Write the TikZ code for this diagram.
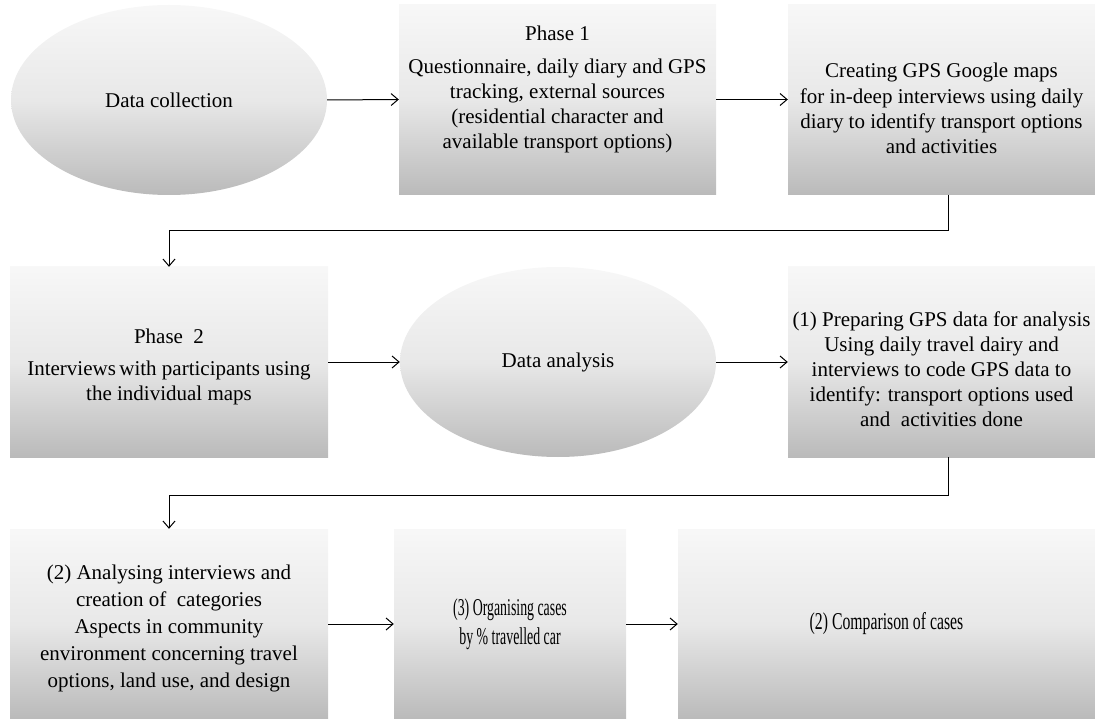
\documentclass[tikz,border=0pt]{standalone}
\usepackage{fontspec}
\setmainfont{Liberation Serif}
\usepackage{graphicx}
\usetikzlibrary{arrows.meta,shapes.geometric}
\tikzset{
    stage/.style={rectangle, minimum height=190pt, inner sep=0pt,
        top color=black!3, bottom color=black!27, middle color=black!9}, % shaded box
    blob/.style={ellipse, minimum width=316pt, minimum height=190pt, inner sep=0pt,
        top color=black!3, bottom color=black!27, middle color=black!9}, % shaded ellipse
    note/.style={align=center, inner sep=0pt}, % text inside a box
    flow/.style={-{Straight Barb[length=7pt,width=12pt]}, line width=1pt} % connector
}
\newcommand{\narrow}[2]{\scalebox{#1}[1.15]{#2}}

\begin{document}
\begin{tikzpicture}[x=1pt, y=-1pt, font=\fontsize{21pt}{25pt}\selectfont]
    \useasboundingbox (0,0) rectangle (1095,719);

    % row 1
    \node[blob] (collect) at (169,100) {Data collection};
    \node[stage, minimum width=317pt] (phase1) at (557.5,99.5) {};
    \node[note] (phase1-txt) at ([yshift=10pt]phase1.center) {Phase 1\\[8pt]
        Questionnaire, daily diary and GPS\\tracking, external sources\\
        (residential character and\\available transport options)};
    \node[stage, minimum width=307pt] (maps) at (941.5,99.5) {};
    \node[note] (maps-txt) at ([yshift=-9pt]maps.center) {Creating GPS Google maps\\[1pt]
        for in-deep interviews using daily\\diary to identify transport options\\and activities};

    % row 2
    \node[stage, minimum width=318pt] (phase2) at (169,362) {};
    \node[note] (phase2-txt) at ([yshift=-5pt]phase2.center) {Phase~~2\\[7pt]
        Interviews\,with participants using\\the individual maps};
    \node[blob] (analysis) at (558,362) {Data analysis};
    \node[stage, minimum width=307pt] (prepare) at (941.5,362) {};
    \node[note] (prepare-txt) at ([yshift=-7pt]prepare.center) {(1) Preparing GPS data for analysis\\
        Using daily travel dairy and\\interviews to code GPS data to\\
        identify: transport options used\\and~~activities done};

    % row 3
    \node[stage, minimum width=318pt] (categories) at (169,624) {};
    \node[note] (categories-txt) at ([yshift=-4pt]categories.center) {(2) Analysing interviews and\\[2pt]
        creation of~~categories\\[2pt]Aspects in community\\[2pt]environment concerning travel\\[2pt]
        options, land use, and design};
    \node[stage, minimum width=232pt] (cases) at (510,624) {};
    \node[note] (cases-txt) at (cases.center) {\narrow{0.66}{(3) Organising cases}\\[4pt]
        \narrow{0.66}{by \% travelled car}};
    \node[stage, minimum width=417pt] (compare) at (886.5,624) {};
    \node[note] (compare-txt) at (compare.center) {\narrow{0.75}{(2) Comparison of cases}};

    \coordinate (turnA) at (948,231);
    \coordinate (turnB) at (948,495);

    \draw[flow] (collect.east) -- (phase1.west);
    \draw[flow] (phase1.east) -- (maps.west);
    \draw[flow] (maps.south -| turnA) -- (turnA) -| (phase2.north);
    \draw[flow] (phase2.east) -- (analysis.west);
    \draw[flow] (analysis.east) -- (prepare.west);
    \draw[flow] (prepare.south -| turnB) -- (turnB) -| (categories.north);
    \draw[flow] (categories.east) -- (cases.west);
    \draw[flow] (cases.east) -- (compare.west);
\end{tikzpicture}
\end{document}
